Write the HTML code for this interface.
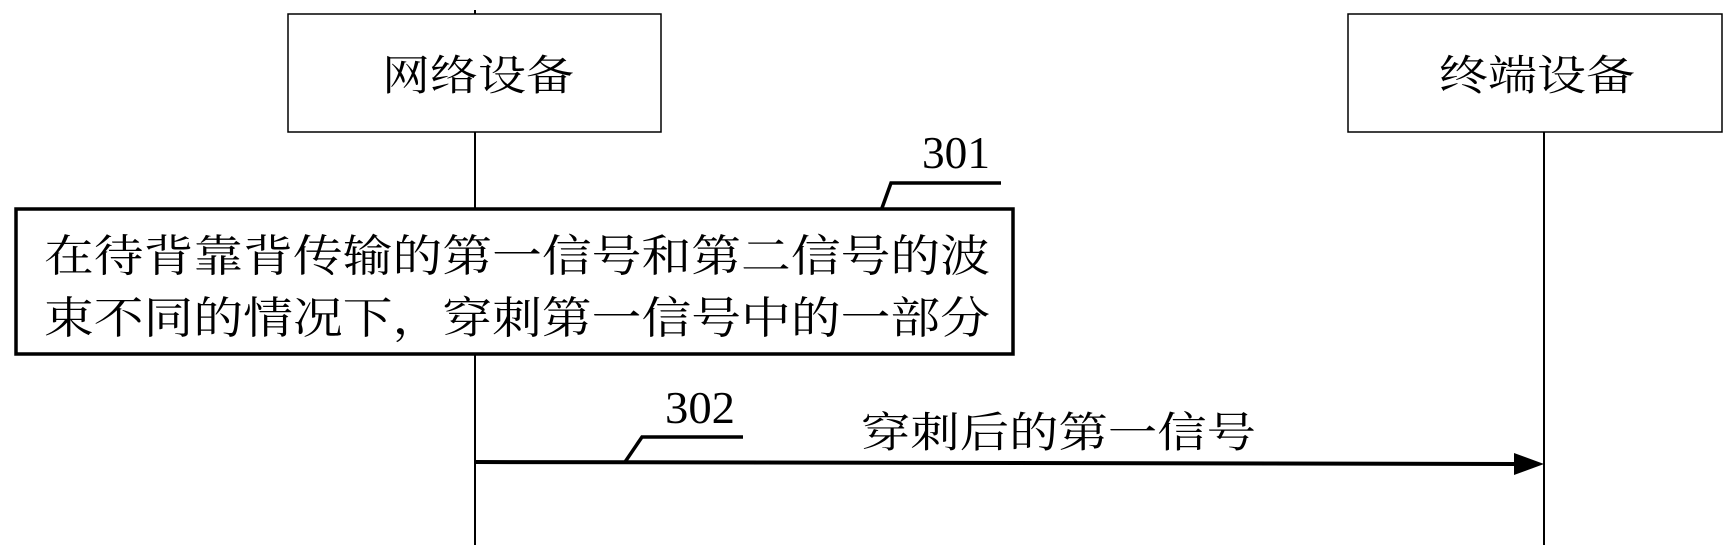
<!DOCTYPE html>
<html><head><meta charset="utf-8"><style>
html,body{margin:0;padding:0;background:#fff;}
svg{display:block;}
text{font-family:"Liberation Serif","Noto Serif CJK SC",serif;fill:#000;}
</style></head><body>
<svg width="1735" height="560" viewBox="0 0 1735 560" xmlns="http://www.w3.org/2000/svg">
<rect x="288" y="14" width="373" height="118" fill="#fff" stroke="#000" stroke-width="1.5"/>
<rect x="1348" y="14" width="374" height="118" fill="#fff" stroke="#000" stroke-width="1.5"/>
<line x1="475" y1="10" x2="475" y2="14" stroke="#000" stroke-width="2"/>
<line x1="475" y1="132" x2="475" y2="545" stroke="#000" stroke-width="2"/>
<line x1="1544" y1="132" x2="1544" y2="545" stroke="#000" stroke-width="2"/>
<text x="478" y="90" font-size="42" text-anchor="middle" textLength="192" lengthAdjust="spacingAndGlyphs">网络设备</text>
<text x="1537" y="90" font-size="42" text-anchor="middle" textLength="196" lengthAdjust="spacingAndGlyphs">终端设备</text>
<rect x="16" y="209" width="997" height="145" fill="#fff" stroke="#000" stroke-width="3.5"/>
<text x="44" y="271" font-size="44" textLength="946" lengthAdjust="spacingAndGlyphs">在待背靠背传输的第一信号和第二信号的波</text>
<text x="44" y="333" font-size="44" textLength="946" lengthAdjust="spacingAndGlyphs">束不同的情况下，穿刺第一信号中的一部分</text>
<text x="922" y="168" font-size="46" textLength="68" lengthAdjust="spacingAndGlyphs">301</text>
<polyline points="882,208 891,183 1001,183" fill="none" stroke="#000" stroke-width="3.5"/>
<text x="665" y="423" font-size="46" textLength="70" lengthAdjust="spacingAndGlyphs">302</text>
<polyline points="625,462 642,437 743,437" fill="none" stroke="#000" stroke-width="3.5"/>
<text x="861" y="447" font-size="42" textLength="395" lengthAdjust="spacingAndGlyphs">穿刺后的第一信号</text>
<line x1="475" y1="462" x2="1516" y2="464" stroke="#000" stroke-width="4"/>
<polygon points="1514,453 1544,464 1514,475" fill="#000"/>
</svg>
</body></html>
